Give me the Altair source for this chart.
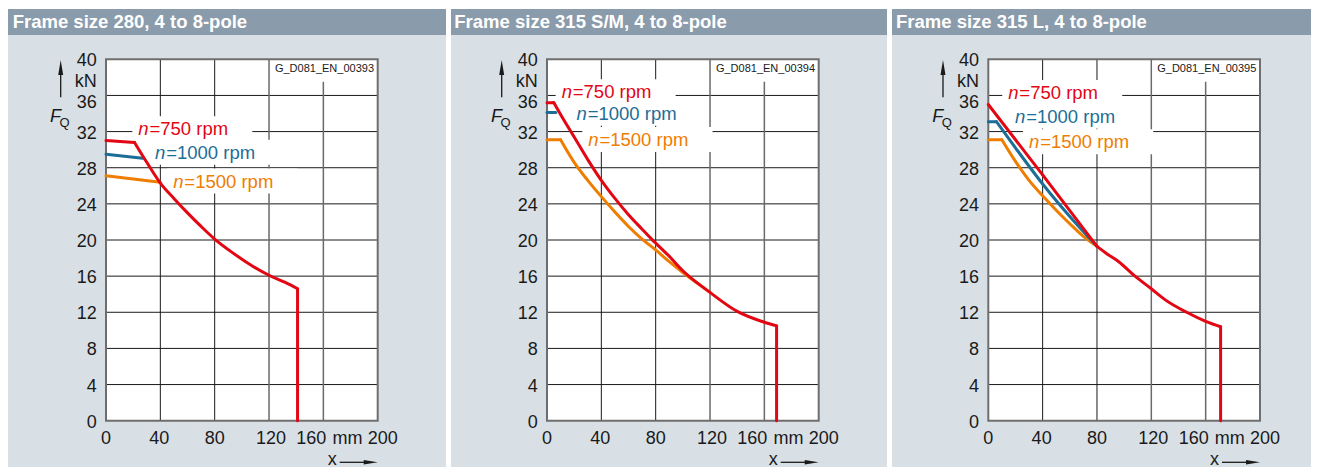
import altair as alt
import pandas as pd

# ---------------- data ----------------
TITLES = ["Frame size 280, 4 to 8-pole",
          "Frame size 315 S/M, 4 to 8-pole",
          "Frame size 315 L, 4 to 8-pole"]
CODES = ["G_D081_EN_00393", "G_D081_EN_00394", "G_D081_EN_00395"]
SPEEDS = ["750", "1000", "1500"]
LABEL_TEXT = ["=750 rpm", "=1000 rpm", "=1500 rpm"]
X_TICKS = [0, 40, 80, 120, 160, 200]
Y_TICKS = [0, 4, 8, 12, 16, 20, 24, 28, 32, 36, 40]
X_UNIT = "mm"
Y_UNIT = "kN"

# Frame size 280
P1_RED_X = [0, 21, 30, 40, 50, 60, 70, 80, 94, 108, 120, 132, 141, 141]
P1_RED_Y = [31.0, 30.8, 28.6, 26.3, 24.6, 23.0, 21.5, 20.1, 18.5, 17.1, 16.1, 15.3, 14.6, 0]
P1_BLUE_X = [0, 27]
P1_BLUE_Y = [29.5, 29.05]
P1_ORANGE_X = [0, 40]
P1_ORANGE_Y = [27.1, 26.4]
P1_LABEL_X = [23.8, 36.1, 49.5]
P1_LABEL_Y = [31.6, 29.0, 25.8]

# Frame size 315 S/M
P2_RED_X = [0, 5, 10, 20, 30, 40, 50, 60, 70, 77, 90, 100, 120, 140, 160, 169, 169]
P2_RED_Y = [35.2, 35.2, 33.9, 31.4, 28.9, 26.6, 24.6, 22.8, 21.2, 20.1, 18.2, 16.6, 14.2, 12.1, 10.9, 10.5, 0]
P2_BLUE_X = [0, 6.5]
P2_BLUE_Y = [34.1, 34.1]
P2_ORANGE_X = [0, 10, 20, 30, 40, 50, 60, 70, 80, 90, 100, 110, 120]
P2_ORANGE_Y = [31.1, 31.1, 28.6, 26.6, 24.8, 23.1, 21.5, 20.1, 18.9, 17.6, 16.4, 15.3, 14.2]
P2_LABEL_X = [10.8, 21.8, 30.4]
P2_LABEL_Y = [35.7, 33.3, 30.4]

# Frame size 315 L
P3_RED_X = [0, 40, 80, 88, 96, 108, 120, 130, 146, 160, 171, 171]
P3_RED_Y = [35.0, 27.2, 19.3, 18.4, 17.6, 16.0, 14.6, 13.4, 12.0, 11.0, 10.4, 0]
P3_BLUE_X = [0, 6, 20, 40, 60, 80]
P3_BLUE_Y = [33.1, 33.1, 30.2, 26.2, 22.6, 19.3]
P3_ORANGE_X = [0, 10, 20, 30, 40, 50, 60, 70, 80]
P3_ORANGE_Y = [31.1, 31.1, 28.7, 26.6, 24.9, 23.3, 21.8, 20.4, 19.3]
P3_LABEL_X = [14.7, 19.7, 30.0]
P3_LABEL_Y = [35.6, 33.0, 30.15]

# indices of the sharp corners in each curve (the curve is smooth between them)
P1_BREAKS = {"750": [1, 12], "1000": [], "1500": []}
P2_BREAKS = {"750": [1, 15], "1000": [], "1500": [1]}
P3_BREAKS = {"750": [1, 2, 10], "1000": [1], "1500": [1]}

# ---------------- style / layout ----------------
FONT = "Liberation Sans"
RED = "#e30613"
BLUE = "#1c6e96"
ORANGE = "#ef7d00"
PANEL_BG = "#d8e0e6"
TITLE_BG = "#8a9bab"
GRID_DARK = "#1a1a1a"
GRID_GRAY = "#6a6a6a"
BORDER = "#6e6e6e"
INK = "#1a1a1a"

H = 459
PLOT_TOP = 51.3
PLOT_BOTTOM = 412.7
PLOT_W = 271.7
VIEW_W = [438, 436, 419]
PLOT_LEFT = [98, 96, 96.3]
TITLE_X = [4.7, 3.3, 4.0]
FS = 18
LFS = 18.5

PX_MM = PLOT_W / (X_TICKS[-1] - X_TICKS[0])
PX_KN = (PLOT_BOTTOM - PLOT_TOP) / (Y_TICKS[-1] - Y_TICKS[0])

CHAR_W = {"n": 0.556, "=": 0.584, " ": 0.278, "r": 0.333, "p": 0.556, "m": 0.833}
for d in "0123456789":
    CHAR_W[d] = 0.556


def text_w(s, fs):
    return sum(CHAR_W.get(c, 0.55) for c in s) * fs


color_scale = alt.Scale(domain=SPEEDS, range=[RED, BLUE, ORANGE])
ONE = pd.DataFrame({"a": [0]})


def pieces(sx, sy, breaks, s):
    n = len(sx)
    bounds = [0] + [b for b in breaks if 0 < b < n - 1] + [n - 1]
    rows = []
    for k in range(len(bounds) - 1):
        a, b = bounds[k], bounds[k + 1]
        for i in range(a, b + 1):
            rows.append({"x": sx[i], "y": sy[i], "i": i, "seg": k, "s": s})
    return pd.DataFrame(rows)


def panel(idx, title, code, series, breaks, lab_x, lab_y):
    vw = VIEW_W[idx]
    pl = PLOT_LEFT[idx]
    pr = pl + PLOT_W
    xs = alt.Scale(domain=[-pl / PX_MM, X_TICKS[0] + (vw - pl) / PX_MM], nice=False, zero=False)
    ys = alt.Scale(domain=[Y_TICKS[0] - (H - PLOT_BOTTOM) / PX_KN, Y_TICKS[-1] + PLOT_TOP / PX_KN],
                   nice=False, zero=False)

    def X(f="x"):
        return alt.X(f, type="quantitative", scale=xs, axis=None)

    def Y(f="y"):
        return alt.Y(f, type="quantitative", scale=ys, axis=None)

    layers = []
    # panel background and title bar
    layers.append(alt.Chart(ONE).mark_rect(color=PANEL_BG).encode(
        x=alt.value(0), x2=alt.value(vw), y=alt.value(1), y2=alt.value(H)))
    layers.append(alt.Chart(ONE).mark_rect(color=TITLE_BG).encode(
        x=alt.value(0), x2=alt.value(vw), y=alt.value(1), y2=alt.value(27)))
    layers.append(alt.Chart(ONE).mark_text(
        text=title, align="left", baseline="alphabetic", fontSize=LFS,
        fontWeight="bold", color="white", font=FONT).encode(
        x=alt.value(TITLE_X[idx]), y=alt.value(20.3)))

    area = pd.DataFrame({"x": [X_TICKS[0]], "x1": [X_TICKS[-1]],
                         "y": [Y_TICKS[0]], "y1": [Y_TICKS[-1]]})
    layers.append(alt.Chart(area).mark_rect(color="white").encode(
        x=X(), x2="x1", y=Y(), y2="y1"))

    # grid
    gh = pd.DataFrame({"y": Y_TICKS[1:-1]})
    gh["x"] = X_TICKS[0]
    gh["x1"] = X_TICKS[-1]
    layers.append(alt.Chart(gh).mark_rule(color=GRID_DARK, strokeWidth=1).encode(
        x=X(), x2="x1", y=Y()))
    gv1 = pd.DataFrame({"x": X_TICKS[1:3]})
    gv1["y"] = Y_TICKS[0]
    gv1["y1"] = Y_TICKS[-1]
    layers.append(alt.Chart(gv1).mark_rule(color=GRID_DARK, strokeWidth=1).encode(
        x=X(), y=Y(), y2="y1"))
    gv2 = pd.DataFrame({"x": X_TICKS[3:5]})
    gv2["y"] = Y_TICKS[0]
    gv2["y1"] = Y_TICKS[-1]
    layers.append(alt.Chart(gv2).mark_rule(color=GRID_GRAY, strokeWidth=1.5).encode(
        x=X(), y=Y(), y2="y1"))

    # white boxes: drawing code and curve labels
    cb = pd.DataFrame({"x": [X_TICKS[3] + 1.2 / PX_MM], "x1": [X_TICKS[-1]],
                       "y": [Y_TICKS[-1] - 22.4 / PX_KN], "y1": [Y_TICKS[-1]]})
    lb = pd.DataFrame({
        "x": [lx - 6 / PX_MM for lx in lab_x],
        "x1": [lx + (text_w("n" + t, LFS) + 25) / PX_MM for lx, t in zip(lab_x, LABEL_TEXT)],
        "y": [ly - 6 / PX_KN for ly in lab_y],
        "y1": [ly + 19 / PX_KN for ly in lab_y],
    })
    boxes = pd.concat([cb, lb], ignore_index=True)
    layers.append(alt.Chart(boxes).mark_rect(color="white").encode(
        x=X(), x2="x1", y=Y(), y2="y1"))

    # border
    layers.append(alt.Chart(area).mark_rect(
        fillOpacity=0, stroke=BORDER, strokeWidth=2).encode(
        x=X(), x2="x1", y=Y(), y2="y1"))

    # curves (orange, blue, red on top)
    for s in ["1500", "1000", "750"]:
        sx, sy = series[s]
        df = pieces(sx, sy, breaks[s], s)
        layers.append(alt.Chart(df).mark_line(
            strokeWidth=3, interpolate="monotone", strokeCap="round",
            strokeJoin="round").encode(
            x=X(), y=Y(), order="i:Q", detail="seg:N",
            color=alt.Color("s:N", scale=color_scale, legend=None)))

    # curve labels
    ldf = pd.DataFrame({"x": lab_x, "y": lab_y, "s": SPEEDS, "rest": LABEL_TEXT})
    layers.append(alt.Chart(ldf).mark_text(
        text="n", fontStyle="italic", align="left", baseline="alphabetic",
        fontSize=LFS, font=FONT).encode(
        x=X(), y=Y(), color=alt.Color("s:N", scale=color_scale, legend=None)))
    layers.append(alt.Chart(ldf).mark_text(
        align="left", baseline="alphabetic", fontSize=LFS, font=FONT,
        dx=0.556 * LFS + 0.8).encode(
        x=X(), y=Y(), text="rest:N",
        color=alt.Color("s:N", scale=color_scale, legend=None)))

    # drawing code
    layers.append(alt.Chart(ONE).mark_text(
        text=code, align="right", baseline="alphabetic", fontSize=11,
        font=FONT, color=INK).encode(
        x=alt.value(pr - 3.7), y=alt.value(PLOT_TOP + 13)))

    # y tick labels
    y_nudge = [13 if v == 36 else 7 for v in Y_TICKS]
    ydf = pd.DataFrame({"y": [v - n / PX_KN for v, n in zip(Y_TICKS, y_nudge)],
                        "t": [str(v) for v in Y_TICKS]})
    layers.append(alt.Chart(ydf).mark_text(
        align="right", baseline="alphabetic", fontSize=FS, font=FONT,
        color=INK, dx=-9.3).encode(x=alt.value(pl), y=Y(), text="t:N"))
    layers.append(alt.Chart(ONE).mark_text(
        text=Y_UNIT, align="right", baseline="alphabetic", fontSize=FS,
        font=FONT, color=INK).encode(
        x=alt.value(pl - 9.3), y=alt.value(PLOT_TOP + 28)))

    # x tick labels
    x_nudge = [0, -1, 0, 2, -12, 5]
    xdf = pd.DataFrame({"x": [v + n / PX_MM for v, n in zip(X_TICKS, x_nudge)]
                        + [(X_TICKS[4] + X_TICKS[5]) / 2 - 3 / PX_MM],
                        "t": [str(v) for v in X_TICKS] + [X_UNIT]})
    layers.append(alt.Chart(xdf).mark_text(
        align="center", baseline="alphabetic", fontSize=FS, font=FONT,
        color=INK).encode(x=X(), y=alt.value(PLOT_BOTTOM + 23), text="t:N"))

    # axis symbols
    layers.append(alt.Chart(ONE).mark_text(
        text="F", fontStyle="italic", align="left", baseline="alphabetic",
        fontSize=FS, font=FONT, color=INK).encode(
        x=alt.value(pl - 56), y=alt.value(PLOT_TOP + 62.4)))
    layers.append(alt.Chart(ONE).mark_text(
        text="Q", align="left", baseline="alphabetic",
        fontSize=13, font=FONT, color=INK).encode(
        x=alt.value(pl - 46.5), y=alt.value(PLOT_TOP + 67.4)))
    layers.append(alt.Chart(ONE).mark_text(
        text="x", align="left", baseline="alphabetic",
        fontSize=FS, font=FONT, color=INK).encode(
        x=alt.value(pr - 50), y=alt.value(PLOT_BOTTOM + 44.3)))

    # arrows
    ax = pl - 45.3
    layers.append(alt.Chart(ONE).mark_rule(color=INK, strokeWidth=1.3).encode(
        x=alt.value(ax), y=alt.value(PLOT_TOP + 12), y2=alt.value(PLOT_TOP + 38)))
    layers.append(alt.Chart(ONE).mark_point(
        shape="M -0.33 1 L 0 -1 L 0.33 1 Z", size=225, filled=True,
        color=INK, opacity=1).encode(
        x=alt.value(ax), y=alt.value(PLOT_TOP + 0.7 + 7.5)))
    ay = PLOT_BOTTOM + 41.6
    layers.append(alt.Chart(ONE).mark_rule(color=INK, strokeWidth=1.3).encode(
        x=alt.value(pr - 38), x2=alt.value(pr - 11), y=alt.value(ay)))
    layers.append(alt.Chart(ONE).mark_point(
        shape="M -1 -0.33 L 1 0 L -1 0.33 Z", size=196, filled=True,
        color=INK, opacity=1).encode(
        x=alt.value(pr - 7), y=alt.value(ay)))

    return alt.layer(*layers).properties(width=vw, height=H)


p1 = panel(0, TITLES[0], CODES[0],
           {"750": (P1_RED_X, P1_RED_Y), "1000": (P1_BLUE_X, P1_BLUE_Y),
            "1500": (P1_ORANGE_X, P1_ORANGE_Y)}, P1_BREAKS, P1_LABEL_X, P1_LABEL_Y)
p2 = panel(1, TITLES[1], CODES[1],
           {"750": (P2_RED_X, P2_RED_Y), "1000": (P2_BLUE_X, P2_BLUE_Y),
            "1500": (P2_ORANGE_X, P2_ORANGE_Y)}, P2_BREAKS, P2_LABEL_X, P2_LABEL_Y)
p3 = panel(2, TITLES[2], CODES[2],
           {"750": (P3_RED_X, P3_RED_Y), "1000": (P3_BLUE_X, P3_BLUE_Y),
            "1500": (P3_ORANGE_X, P3_ORANGE_Y)}, P3_BREAKS, P3_LABEL_X, P3_LABEL_Y)

chart = alt.hconcat(p1, p2, p3, spacing=5, padding=0, background="white") \
    .configure_view(strokeWidth=0)

chart.save("out.html", embed_options={"renderer": "svg", "actions": False})
